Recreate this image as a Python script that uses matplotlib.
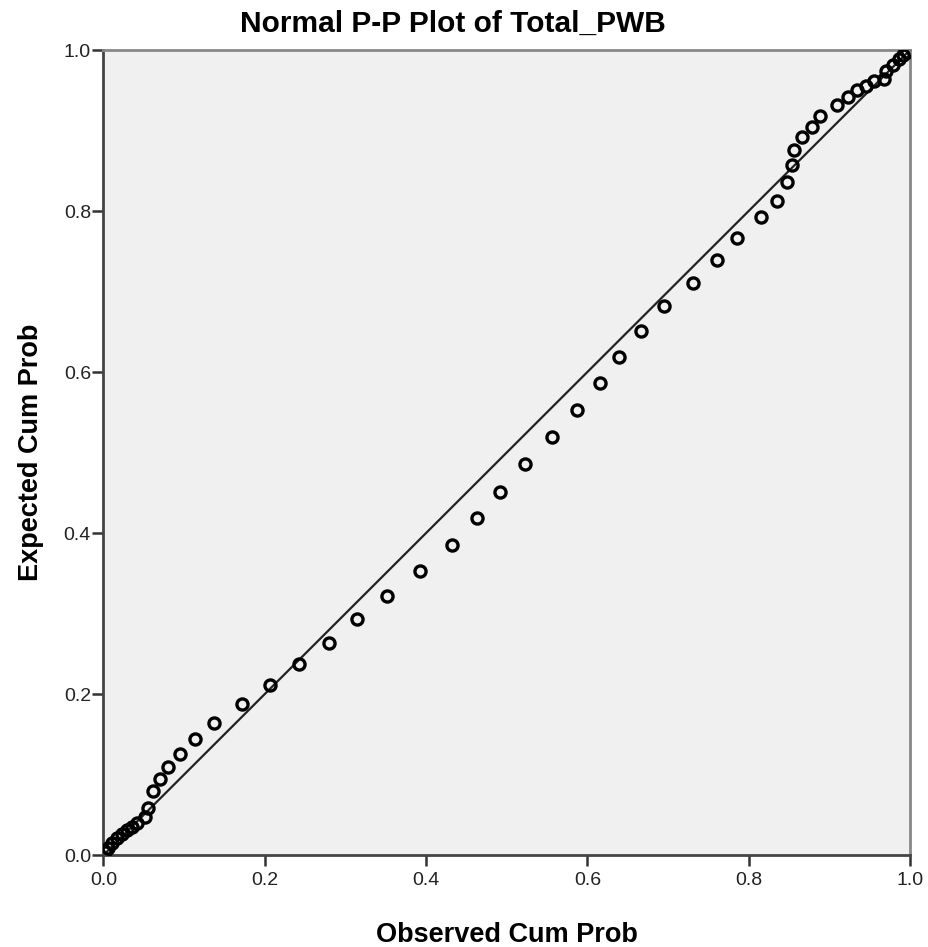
import matplotlib
matplotlib.use("Agg")
import matplotlib.pyplot as plt

plt.rcParams['font.family'] = ['Liberation Sans', 'DejaVu Sans']

observed = [0.0019, 0.0056, 0.0105, 0.0167, 0.0230, 0.0292, 0.0354, 0.0416, 0.0515, 0.0552,
            0.0614, 0.0701, 0.0800, 0.0949, 0.1135, 0.1371, 0.1718, 0.2066, 0.2426, 0.2798,
            0.3145, 0.3517, 0.3927, 0.4324, 0.4634, 0.4919, 0.5229, 0.5565, 0.5875, 0.6160,
            0.6396, 0.6669, 0.6954, 0.7314, 0.7612, 0.7860, 0.8158, 0.8356, 0.8480, 0.8542,
            0.8567, 0.8666, 0.8790, 0.8890, 0.9101, 0.9237, 0.9349, 0.9460, 0.9560, 0.9684,
            0.9708, 0.9795, 0.9870, 0.9919, 0.9969]
expected = [0.0037, 0.0087, 0.0149, 0.0211, 0.0261, 0.0311, 0.0348, 0.0398, 0.0472, 0.0584,
            0.0795, 0.0944, 0.1093, 0.1255, 0.1441, 0.1640, 0.1876, 0.2112, 0.2373, 0.2634,
            0.2932, 0.3217, 0.3528, 0.3851, 0.4186, 0.4509, 0.4857, 0.5193, 0.5528, 0.5863,
            0.6186, 0.6509, 0.6820, 0.7106, 0.7391, 0.7665, 0.7925, 0.8124, 0.8360, 0.8571,
            0.8758, 0.8919, 0.9043, 0.9180, 0.9317, 0.9416, 0.9503, 0.9553, 0.9615, 0.9640,
            0.9739, 0.9814, 0.9888, 0.9938, 0.9975]
ref_line = [0.0, 1.0]
ticks = [0.0, 0.2, 0.4, 0.6, 0.8, 1.0]
tick_labels = ["0.0", "0.2", "0.4", "0.6", "0.8", "1.0"]

fig = plt.figure(figsize=(9.29, 9.47), dpi=100)
fig.patch.set_facecolor('white')
ax = fig.add_axes([0.1114, 0.0971, 0.8681, 0.8501])
ax.set_facecolor('#F0F0F0')

ax.plot(ref_line, ref_line, color='#222222', linewidth=1.6, zorder=2)
ax.plot(observed, expected, linestyle='none', marker='o', markersize=8,
        markerfacecolor='none', markeredgecolor='black', markeredgewidth=2.4, zorder=3)

ax.set_xlim(0, 1)
ax.set_ylim(0, 1)
ax.set_xticks(ticks)
ax.set_xticklabels(tick_labels)
ax.set_yticks(ticks)
ax.set_yticklabels(tick_labels)
ax.tick_params(direction='out', length=8, width=1.8, color='#333333',
               labelsize=14, labelcolor='#222222')
ax.tick_params(axis='y', pad=1)
ax.tick_params(axis='x', pad=4)

for side in ['left', 'bottom']:
    ax.spines[side].set_color('#444444')
    ax.spines[side].set_linewidth(2.0)
for side in ['top', 'right']:
    ax.spines[side].set_color('#888888')
    ax.spines[side].set_linewidth(2.0)

ax.set_xlabel('Observed Cum Prob', fontsize=19.5, fontweight='bold', labelpad=24)
ax.set_ylabel('Expected Cum Prob', fontsize=19.5, fontweight='bold', labelpad=14)
fig.text(453 / 929, 1 - 24 / 947, 'Normal P-P Plot of Total_PWB', ha='center', va='center',
         fontsize=21.5, fontweight='bold')

fig.savefig('out.png', dpi=100)
